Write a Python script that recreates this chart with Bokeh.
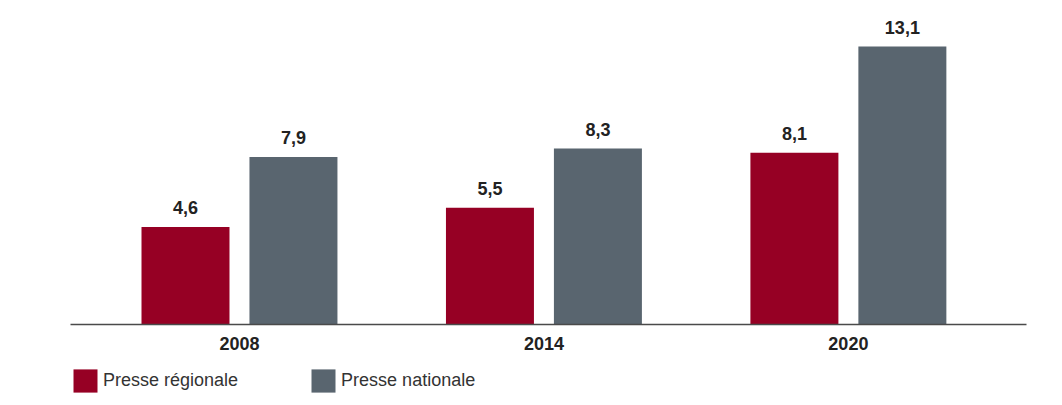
import numpy as np
from bokeh.plotting import figure
from bokeh.layouts import column
from bokeh.models import Range1d, FixedTicker, Legend, LegendItem, ColumnDataSource
from bokeh.core.properties import value
from bokeh.embed import file_html
from bokeh.resources import INLINE

years = ["2008", "2014", "2020"]
regionale = [4.6, 5.5, 8.1]
nationale = [7.9, 8.3, 13.1]
series_names = ["Presse régionale", "Presse nationale"]
colors = ["#960024", "#59656f"]

FONT = "Liberation Sans"
idx = np.arange(len(years))
offset = 0.1773
bw = 0.289

p = figure(width=1046, height=364, frame_width=956, frame_height=324,
           min_border_left=70, min_border_right=20, min_border_top=0, min_border_bottom=40,
           x_range=Range1d(-0.555, 2.585), y_range=Range1d(0, 15.27),
           output_backend="svg", toolbar_location=None)

for vals, off, col in [(regionale, -offset, colors[0]), (nationale, offset, colors[1])]:
    src = ColumnDataSource(dict(x=idx + off, top=vals,
                                lab=[f"{v:.1f}".replace(".", ",") for v in vals]))
    p.vbar(x="x", top="top", bottom=0, width=bw, source=src,
           fill_color=col, line_color=None)
    p.text(x="x", y="top", text="lab", source=src, text_align="center",
           text_baseline="alphabetic", y_offset=-19,
           text_font=value(FONT), text_font_style="bold", text_font_size="18px",
           text_color="#222222")

p.yaxis.visible = False
p.grid.visible = False
p.outline_line_color = None
p.background_fill_color = "white"
p.border_fill_color = "white"

xa = p.xaxis[0]
xa.ticker = FixedTicker(ticks=list(idx))
xa.major_label_overrides = {int(i): y for i, y in zip(idx, years)}
xa.major_tick_line_color = None
xa.minor_tick_line_color = None
xa.major_tick_out = 0
xa.major_label_standoff = 12
xa.axis_line_color = "#4a4a4a"
xa.axis_line_width = 1.5
xa.major_label_text_font = FONT
xa.major_label_text_font_style = "bold"
xa.major_label_text_font_size = "18px"
xa.major_label_text_color = "#222222"

# legend strip
lg = figure(width=1046, height=36, frame_width=976, frame_height=36,
            min_border_left=70, min_border_right=0, min_border_top=0, min_border_bottom=0,
            x_range=Range1d(0, 1), y_range=Range1d(0, 1),
            x_axis_location=None, y_axis_location=None,
            output_backend="svg", toolbar_location=None)
lg.grid.visible = False
lg.outline_line_color = None
lg.border_fill_color = "white"
items = []
for name, col in zip(series_names, colors):
    # key glyph only: the one bar lies outside the strip's visible range
    r = lg.vbar(x=[5], top=[0.5], width=0.1, fill_color=col, line_color=None)
    items.append(LegendItem(label=name, renderers=[r]))
legend = Legend(items=items, location=(0, 5), orientation="horizontal",
                glyph_width=30, glyph_height=29, label_standoff=3, spacing=70,
                padding=0, margin=0, border_line_color=None, background_fill_alpha=0,
                label_text_font=FONT, label_text_font_size="18px", label_text_color="#333333")
lg.add_layout(legend, "center")

layout = column(p, lg, spacing=0)
open("out.html", "w").write(file_html(layout, INLINE))
